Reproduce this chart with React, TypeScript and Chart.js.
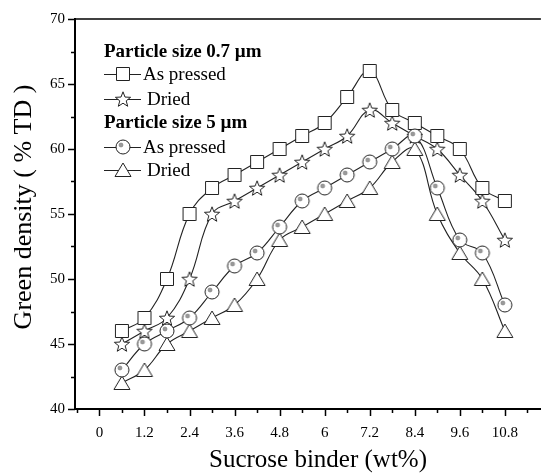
import React, { useEffect, useRef } from "react";
import { Chart, registerables } from "chart.js";

Chart.register(...registerables);

// ---------- data ----------
const sucroseWt = [0.6, 1.2, 1.8, 2.4, 3.0, 3.6, 4.2, 4.8, 5.4, 6.0, 6.6, 7.2, 7.8, 8.4, 9.0, 9.6, 10.2, 10.8];
const pressed07 = [46, 47, 50, 55, 57, 58, 59, 60, 61, 62, 64, 66, 63, 62, 61, 60, 57, 56];
const dried07 = [45, 46, 47, 50, 55, 56, 57, 58, 59, 60, 61, 63, 62, 61, 60, 58, 56, 53];
const pressed5 = [43, 45, 46, 47, 49, 51, 52, 54, 56, 57, 58, 59, 60, 61, 57, 53, 52, 48];
const dried5 = [42, 43, 45, 46, 47, 48, 50, 53, 54, 55, 56, 57, 59, 60, 55, 52, 50, 46];

const xTickValues = [0, 1.2, 2.4, 3.6, 4.8, 6, 7.2, 8.4, 9.6, 10.8];
const xMinorTicks = [-0.6, 0.6, 1.8, 3.0, 4.2, 5.4, 6.6, 7.8, 9.0, 10.2, 11.4];
const yTickValues = [40, 45, 50, 55, 60, 65, 70];
const yMinorTicks = [42.5, 47.5, 52.5, 57.5, 62.5, 67.5];

const groupHeaders = ["Particle size 0.7 \u00b5m", "Particle size 5 \u00b5m"];
const seriesLabels = ["As pressed", "Dried", "As pressed", "Dried"];
const xTitle = "Sucrose binder (wt%)";
const yTitle = "Green density ( % TD )";

const FONT = '"Liberation Serif", "Times New Roman", serif';

function makeMarker(kind: string): HTMLCanvasElement {
  const c = document.createElement("canvas");
  c.width = 20;
  c.height = 20;
  const g = c.getContext("2d") as CanvasRenderingContext2D;
  g.translate(10, 10);
  g.lineWidth = 1;
  g.strokeStyle = "#222";
  g.fillStyle = "#fff";
  g.beginPath();
  if (kind === "square") {
    g.rect(-6.5, -6.5, 13, 13);
  } else if (kind === "star") {
    for (let i = 0; i < 10; i++) {
      const r = i % 2 === 0 ? 8 : 3.4;
      const a = -Math.PI / 2 + (i * Math.PI) / 5;
      const px = r * Math.cos(a);
      const py = r * Math.sin(a) + 0.8;
      if (i === 0) g.moveTo(px, py);
      else g.lineTo(px, py);
    }
    g.closePath();
  } else if (kind === "circle") {
    g.arc(0, 0, 7, 0, Math.PI * 2);
  } else {
    g.moveTo(0, -7);
    g.lineTo(8, 6.5);
    g.lineTo(-8, 6.5);
    g.closePath();
  }
  g.fill();
  g.stroke();
  if (kind === "circle") {
    g.beginPath();
    g.arc(-2, -2, 2, 0, Math.PI * 2);
    g.fillStyle = "#9a9a9a";
    g.fill();
    g.strokeStyle = "#777";
    g.lineWidth = 0.6;
    g.stroke();
  }
  return c;
}

export default function App() {
  const ref = useRef<HTMLCanvasElement | null>(null);

  useEffect(() => {
    const canvas = ref.current;
    if (!canvas) return;
    const mSquare = makeMarker("square");
    const mStar = makeMarker("star");
    const mCircle = makeMarker("circle");
    const mTri = makeMarker("triangle");

    const mk = (label: string, ys: number[], img: HTMLCanvasElement, order: number) => ({
      label,
      data: sucroseWt.map((x, i) => ({ x, y: ys[i] })),
      borderColor: "#222",
      borderWidth: 1.1,
      backgroundColor: "#fff",
      pointStyle: img,
      pointRadius: 7,
      pointHoverRadius: 7,
      tension: 0.4,
      fill: false,
      order,
    });

    const decor = {
      id: "decor",
      afterDraw(chart: any) {
        const ctx = chart.ctx as CanvasRenderingContext2D;
        const xs = chart.scales.x;
        const ys = chart.scales.y;
        const { left, right, top, bottom } = chart.chartArea;
        ctx.save();
        ctx.strokeStyle = "#000";
        // top frame line
        ctx.lineWidth = 1.5;
        ctx.beginPath();
        ctx.moveTo(left, top);
        ctx.lineTo(right, top);
        ctx.stroke();
        // ticks
        ctx.lineWidth = 1.5;
        ctx.beginPath();
        xTickValues.forEach((v) => {
          const p = Math.round(xs.getPixelForValue(v)) + 0.5;
          ctx.moveTo(p, bottom);
          ctx.lineTo(p, bottom + 7);
        });
        xMinorTicks.forEach((v) => {
          const p = Math.round(xs.getPixelForValue(v)) + 0.5;
          ctx.moveTo(p, bottom);
          ctx.lineTo(p, bottom + 4);
        });
        yTickValues.forEach((v) => {
          const p = Math.round(ys.getPixelForValue(v)) + 0.5;
          ctx.moveTo(left, p);
          ctx.lineTo(left - 7, p);
        });
        yMinorTicks.forEach((v) => {
          const p = Math.round(ys.getPixelForValue(v)) + 0.5;
          ctx.moveTo(left, p);
          ctx.lineTo(left - 4, p);
        });
        ctx.stroke();

        // axis titles
        ctx.fillStyle = "#000";
        ctx.textAlign = "center";
        ctx.textBaseline = "middle";
        ctx.font = `25px ${FONT}`;
        ctx.fillText(xTitle, 318, 460);
        ctx.save();
        ctx.translate(24, 207);
        ctx.rotate(-Math.PI / 2);
        ctx.font = `26px ${FONT}`;
        ctx.fillText(yTitle, 0, 0);
        ctx.restore();

        // legend
        ctx.textAlign = "left";
        ctx.textBaseline = "middle";
        const header = (t: string, y: number) => {
          ctx.font = `bold 19px ${FONT}`;
          ctx.fillText(t, 104, y);
        };
        const row = (y: number, img: HTMLCanvasElement, t: string, tx: number) => {
          ctx.strokeStyle = "#222";
          ctx.lineWidth = 1.1;
          ctx.beginPath();
          ctx.moveTo(104, y + 0.5);
          ctx.lineTo(141, y + 0.5);
          ctx.stroke();
          ctx.drawImage(img, 123 - img.width / 2, y - img.height / 2);
          ctx.font = `19px ${FONT}`;
          ctx.fillText(t, tx, y + 1);
        };
        header(groupHeaders[0], 52);
        row(74, mSquare, seriesLabels[0], 143);
        row(99, mStar, seriesLabels[1], 147);
        header(groupHeaders[1], 123);
        row(147, mCircle, seriesLabels[2], 143);
        row(170, mTri, seriesLabels[3], 147);
        ctx.restore();
      },
    };

    const chart = new Chart(canvas, {
      type: "line",
      data: {
        datasets: [
          mk("0.7 As pressed", pressed07, mSquare, 3),
          mk("0.7 Dried", dried07, mStar, 4),
          mk("5 As pressed", pressed5, mCircle, 1),
          mk("5 Dried", dried5, mTri, 2),
        ] as any,
      },
      options: {
        animation: false,
        responsive: false,
        events: [],
        layout: { padding: { top: 19, right: 0, left: 0, bottom: 0 } },
        plugins: { legend: { display: false }, tooltip: { enabled: false } },
        scales: {
          x: {
            type: "linear",
            min: -0.65,
            max: 11.76,
            afterBuildTicks: (s: any) => {
              s.ticks = xTickValues.map((v) => ({ value: v }));
            },
            afterFit: (s: any) => {
              s.height = 65;
            },
            grid: { display: false, drawTicks: false, tickLength: 0 },
            border: { display: true, color: "#000", width: 2 },
            ticks: {
              autoSkip: false,
              maxRotation: 0,
              padding: 15,
              color: "#000",
              font: { family: FONT, size: 15 },
              callback: (v: any) => String(Math.round(Number(v) * 10) / 10),
            },
          },
          y: {
            type: "linear",
            min: 40,
            max: 70,
            afterBuildTicks: (s: any) => {
              s.ticks = yTickValues.map((v) => ({ value: v }));
            },
            afterFit: (s: any) => {
              s.width = 75;
            },
            grid: { display: false, drawTicks: false, tickLength: 0 },
            border: { display: true, color: "#000", width: 2 },
            ticks: {
              padding: 10,
              color: "#000",
              font: { family: FONT, size: 15 },
              callback: (v: any) => String(v),
            },
          },
        },
      },
      plugins: [decor],
    } as any);

    return () => chart.destroy();
  }, []);

  return (
    <div style={{ position: "fixed", left: 0, top: 0, width: 549, height: 474, background: "#fff" }}>
      <canvas ref={ref} width={549} height={474} style={{ display: "block", width: 549, height: 474 }} />
    </div>
  );
}
